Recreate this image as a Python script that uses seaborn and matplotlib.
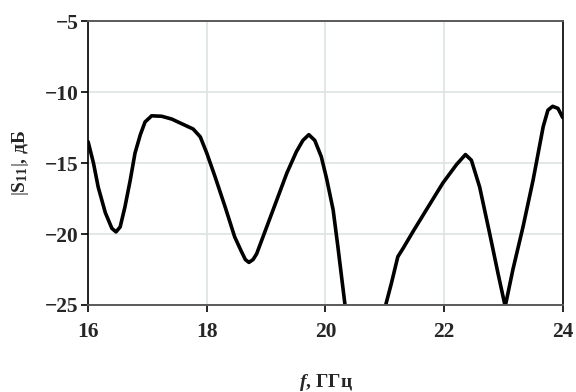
import matplotlib
matplotlib.use("Agg")
import matplotlib.pyplot as plt
import pandas as pd
import seaborn as sns

# frequency, GHz
freq = [16.00, 16.09, 16.17, 16.29, 16.40, 16.47, 16.54, 16.62, 16.71, 16.79,
        16.88, 16.96, 17.07, 17.24, 17.41, 17.60, 17.77, 17.89, 18.00, 18.14,
        18.31, 18.47, 18.58, 18.65, 18.71, 18.78, 18.84, 19.01, 19.18, 19.35,
        19.51, 19.62, 19.72, 19.82, 19.93, 20.02, 20.13, 20.21, 20.33, 20.50,
        20.70, 20.90, 21.02, 21.11, 21.22, 21.31, 21.48, 21.70, 21.98, 22.21,
        22.36, 22.46, 22.60, 22.77, 22.91, 23.03, 23.16, 23.33, 23.50, 23.67,
        23.75, 23.83, 23.92, 24.00]
# |S11|, dB
s11 = [-13.5, -15.0, -16.7, -18.5, -19.6, -19.85, -19.5, -18.1, -16.2, -14.3,
       -13.0, -12.1, -11.67, -11.7, -11.9, -12.27, -12.6, -13.15, -14.3, -15.97,
       -18.1, -20.2, -21.2, -21.8, -22.0, -21.8, -21.4, -19.5, -17.6, -15.7,
       -14.2, -13.4, -13.0, -13.4, -14.55, -16.1, -18.3, -20.9, -25.0, -31.0,
       -32.0, -28.0, -24.93, -23.5, -21.6, -21.0, -19.8, -18.3, -16.4, -15.1,
       -14.4, -14.8, -16.7, -20.0, -22.8, -25.1, -22.5, -19.5, -16.2, -12.44,
       -11.27, -11.0, -11.15, -11.8]

x_ticks = [16, 18, 20, 22, 24]
y_ticks = [-25, -20, -15, -10, -5]

df = pd.DataFrame({"f": freq, "s11": s11})

sns.set_theme(style="whitegrid")
plt.rcParams["font.family"] = ["Liberation Serif", "DejaVu Serif"]
plt.rcParams["mathtext.fontset"] = "custom"
plt.rcParams["mathtext.rm"] = "Liberation Serif"
plt.rcParams["mathtext.it"] = "Liberation Serif:italic:bold"
plt.rcParams["mathtext.bf"] = "Liberation Serif:bold"

fig, ax = plt.subplots(figsize=(5.76, 3.92), dpi=100)
fig.subplots_adjust(left=0.153, right=0.977, top=0.946, bottom=0.222)

sns.lineplot(data=df, x="f", y="s11", sort=False, estimator=None,
             color="black", linewidth=2.6, ax=ax)

ax.set_xlim(16, 24)
ax.set_ylim(-25, -5)
ax.set_xticks(x_ticks)
ax.set_yticks(y_ticks)
ax.set_xticklabels([str(t) for t in x_ticks], fontweight="bold", fontsize=15.5)
ax.set_yticklabels([str(t).replace("-", "\u2212") for t in y_ticks],
                   fontweight="bold", fontsize=15.5)

ax.grid(True, color="#dde4e4", linewidth=1.2)
ax.tick_params(axis="both", direction="out", length=5, width=1.2,
               color="black", bottom=True, left=True)
ax.tick_params(axis="x", pad=7)
ax.tick_params(axis="y", pad=2)

for side in ["left", "right"]:
    ax.spines[side].set_color("black")
    ax.spines[side].set_linewidth(1.2)
for side in ["top", "bottom"]:
    ax.spines[side].set_color("#5a5a5a")
    ax.spines[side].set_linewidth(1.4)

ax.set_xlabel(r"$f$, ГГц", fontsize=14, fontweight="bold", labelpad=22)
ax.set_ylabel(r"$|\mathbf{S}_{\mathbf{11}}|$, дБ", fontsize=14,
              fontweight="bold", labelpad=10)

fig.savefig("out.png", dpi=100)
